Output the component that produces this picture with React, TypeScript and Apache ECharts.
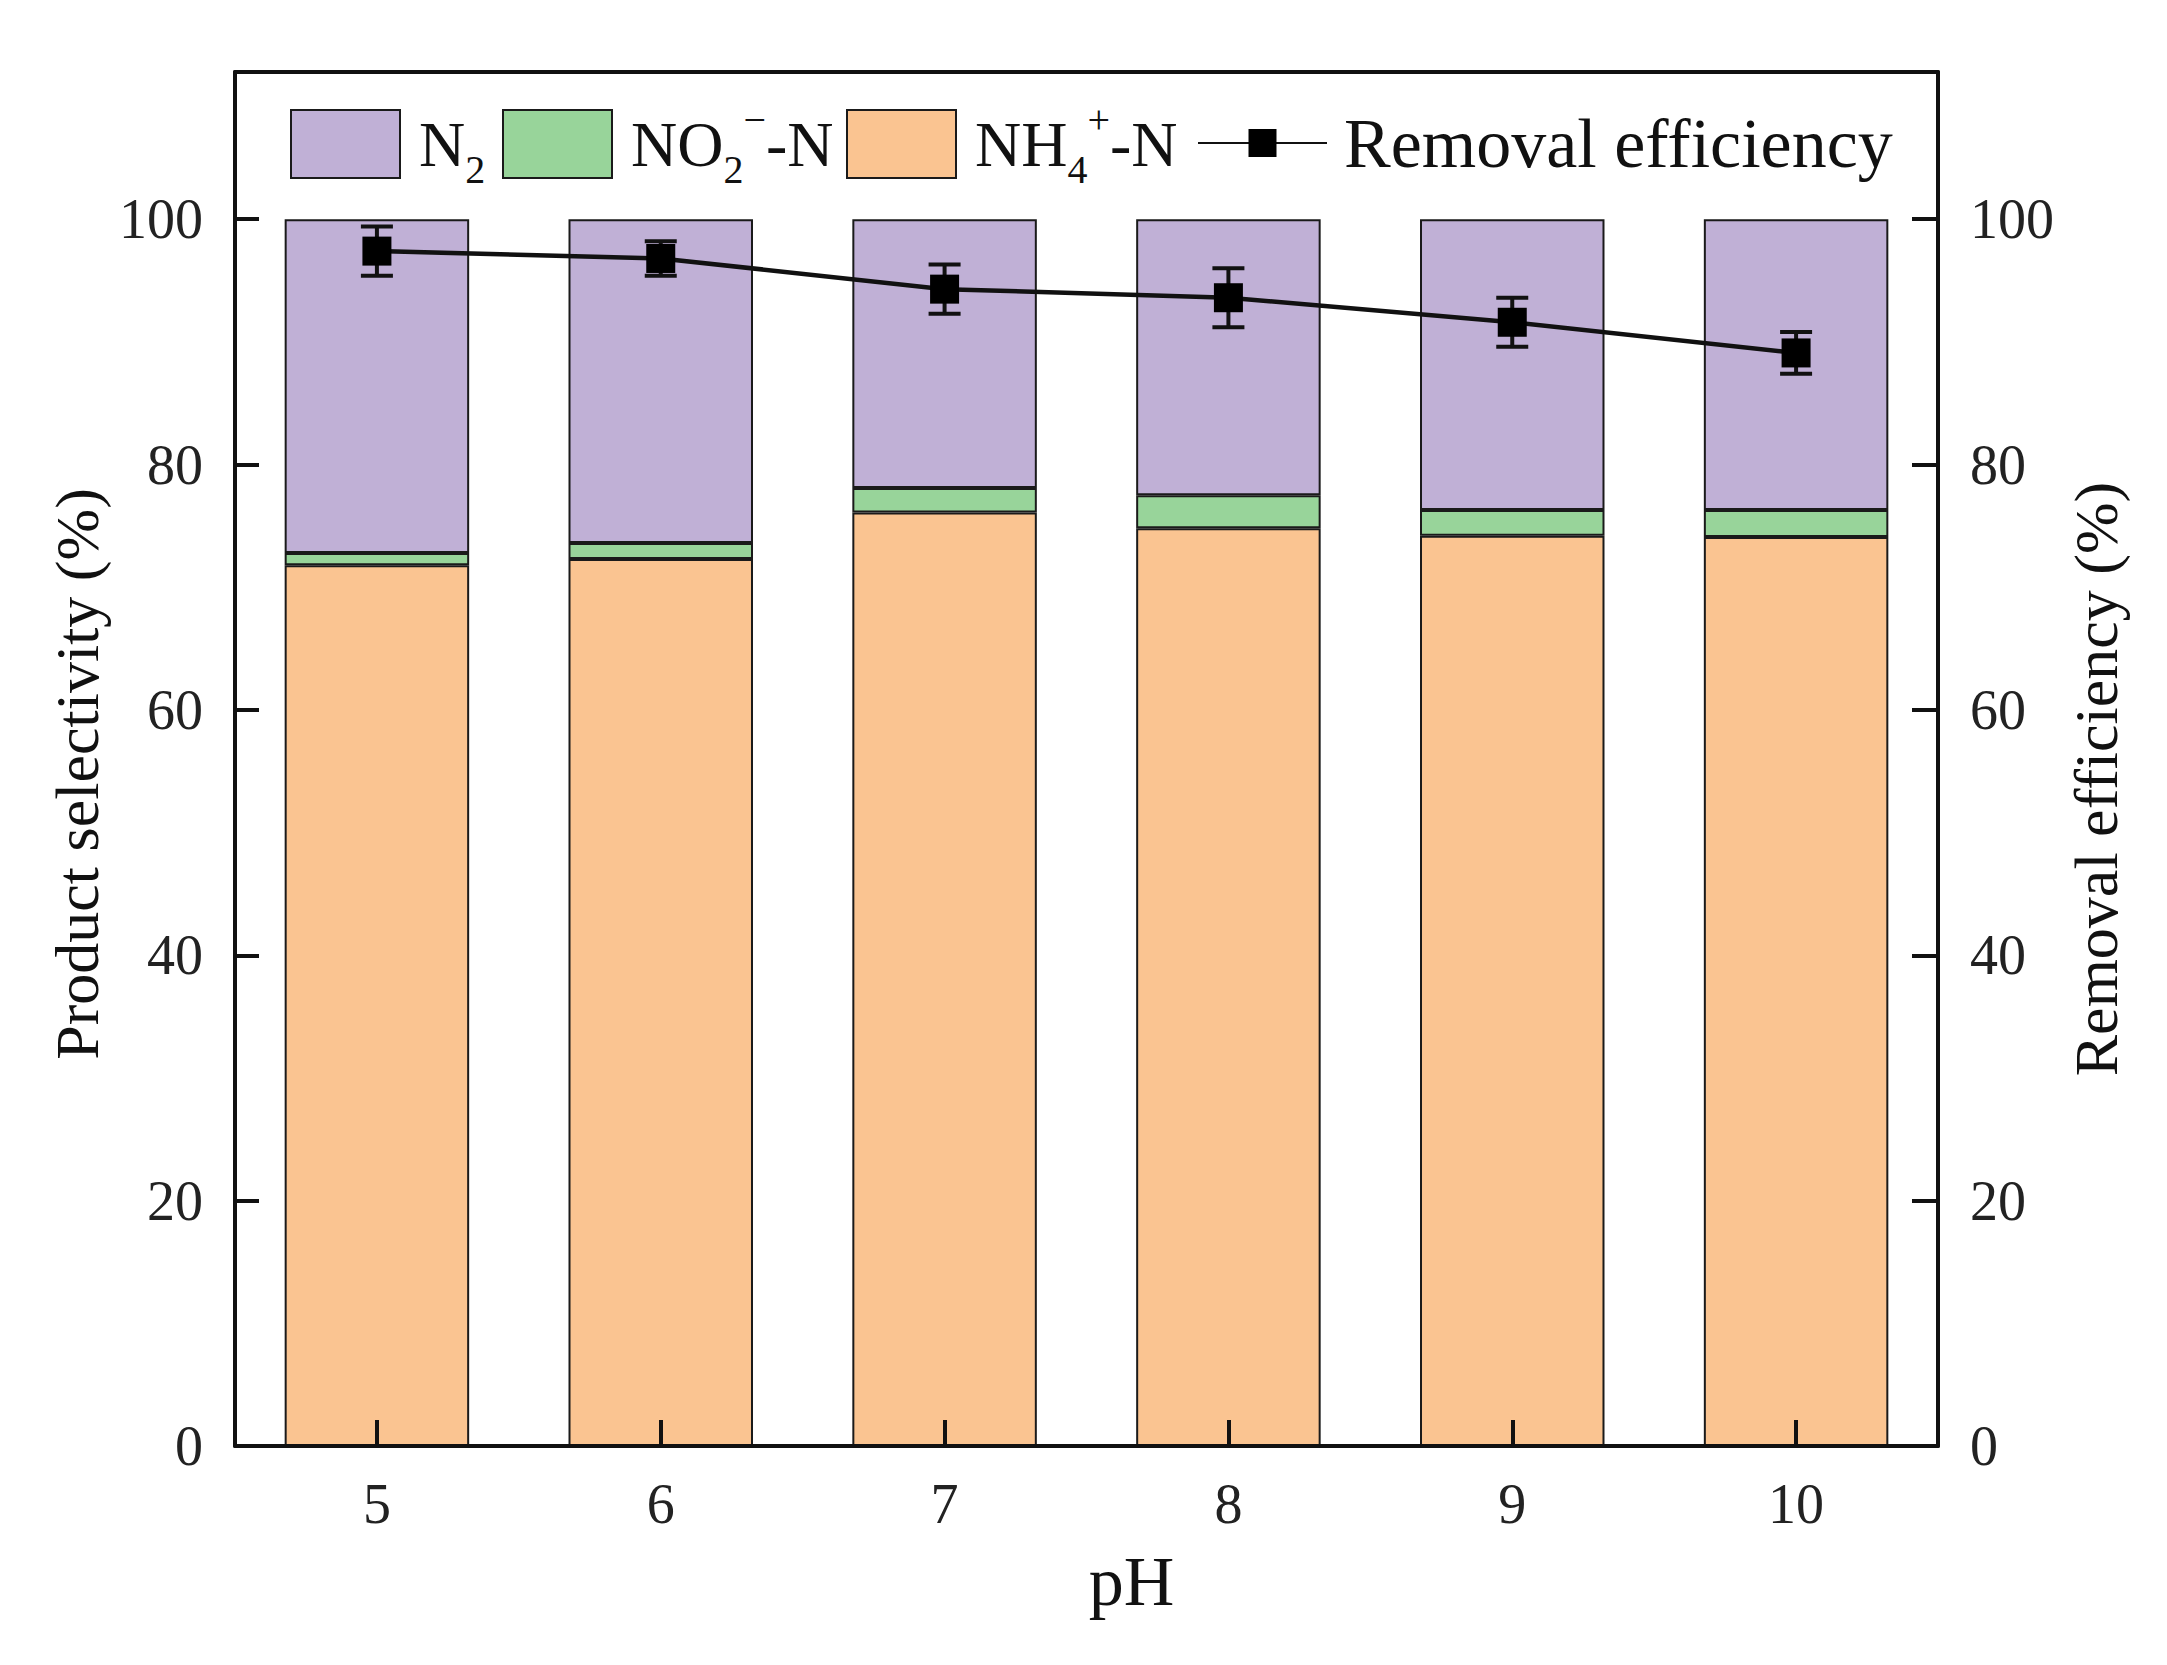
import { useEffect, useRef } from "react";
import * as echarts from "echarts";

// pH values on the x axis
const categories = ["5", "6", "7", "8", "9", "10"];

// product selectivity (%), stacked from bottom to top
const nh4Values = [71.8, 72.3, 76.1, 74.8, 74.2, 74.1];
const no2Values = [1.0, 1.3, 2.0, 2.7, 2.1, 2.2];
const n2Values = [27.2, 26.4, 21.9, 22.5, 23.7, 23.7];

// removal efficiency (%) and its error
const removalValues = [97.4, 96.8, 94.3, 93.6, 91.6, 89.1];
const removalErrors = [2.0, 1.4, 2.0, 2.4, 2.0, 1.7];

const FONT = '"Liberation Serif", "Times New Roman", serif';

const legendRich = {
  n: { fontSize: 64, fontFamily: FONT, color: "#111", lineHeight: 90 },
  sub: { fontSize: 40, fontFamily: FONT, color: "#111", lineHeight: 40, verticalAlign: "bottom" },
  sup: { fontSize: 40, fontFamily: FONT, color: "#111", lineHeight: 40, verticalAlign: "top" },
};

function legendLabel(name: string): string {
  if (name === "N2") return "{n|N}{sub|2}";
  if (name === "NO2") return "{n|NO}{sub|2}{sup|−}{n|-N}";
  if (name === "NH4") return "{n|NH}{sub|4}{sup|+}{n|-N}";
  return name;
}

function barLegend(name: string, left: number, top: number) {
  return {
    data: [name],
    left,
    top,
    icon: "rect",
    itemWidth: 109,
    itemHeight: 68,
    formatter: legendLabel,
    textStyle: { padding: [0, 0, 0, 14], rich: legendRich },
  };
}

export default function App() {
  const chartRef = useRef<HTMLDivElement | null>(null);

  useEffect(() => {
    if (!chartRef.current) return;
    const chart = echarts.init(chartRef.current, undefined, { renderer: "svg" });

    const axisLine = { show: true, onZero: false, lineStyle: { color: "#111", width: 4 } };
    const yLabel = {
      color: "#222",
      fontSize: 56,
      fontFamily: FONT,
      margin: 32,
      showMaxLabel: false,
      formatter: (v: number) => (v % 20 === 0 ? String(v) : ""),
    };

    const barBorder = { borderColor: "#1a1a1a", borderWidth: 2 };

    chart.setOption({
      animation: false,
      backgroundColor: "#fff",
      grid: { left: 235, right: 229, top: 72, bottom: 219, containLabel: false },
      legend: [
        barLegend("N2", 285, 104),
        barLegend("NO2", 497, 94),
        barLegend("NH4", 841, 94),
        {
          data: ["Removal efficiency"],
          left: 1192,
          top: 93,
          itemWidth: 129,
          itemHeight: 35,
          textStyle: {
            fontSize: 70,
            lineHeight: 90,
            fontFamily: FONT,
            color: "#111",
            padding: [0, 0, 0, 12],
          },
        },
      ],
      xAxis: [
        {
          type: "category",
          data: categories,
          boundaryGap: true,
          z: 10,
          axisLine,
          axisTick: { show: true, inside: true, alignWithLabel: true, length: 26, lineStyle: { width: 4, color: "#111" } },
          axisLabel: { color: "#222", fontSize: 56, fontFamily: FONT, margin: 30 },
          name: "pH",
          nameLocation: "middle",
          nameGap: 100,
          nameTextStyle: { fontSize: 70, fontFamily: FONT, color: "#111", padding: [0, 0, 0, 90] },
          splitLine: { show: false },
        },
        {
          type: "category",
          data: categories,
          position: "top",
          z: 10,
          axisLine,
          axisTick: { show: false },
          axisLabel: { show: false },
          splitLine: { show: false },
        },
      ],
      yAxis: [
        {
          type: "value",
          min: 0,
          max: 112,
          interval: 20,
          position: "left",
          z: 10,
          axisLine,
          axisTick: { show: true, inside: true, length: 24, lineStyle: { width: 4, color: "#111" } },
          axisLabel: yLabel,
          splitLine: { show: false },
          name: "Product selectivity (%)",
          nameLocation: "middle",
          nameRotate: 90,
          nameGap: 118,
          nameTextStyle: { fontSize: 62, fontFamily: FONT, color: "#111", padding: [0, 30, 0, 0] },
        },
        {
          type: "value",
          min: 0,
          max: 112,
          interval: 20,
          position: "right",
          z: 10,
          axisLine,
          axisTick: { show: true, inside: true, length: 26, lineStyle: { width: 4, color: "#111" } },
          axisLabel: yLabel,
          splitLine: { show: false },
          name: "Removal efficiency (%)",
          nameLocation: "middle",
          nameRotate: 90,
          nameGap: 100,
          nameTextStyle: { fontSize: 62, fontFamily: FONT, color: "#111", padding: [0, 40, 0, 0] },
        },
      ],
      series: [
        {
          name: "NH4",
          type: "bar",
          stack: "sel",
          barWidth: "65%",
          data: nh4Values,
          itemStyle: { color: "#FAC491", ...barBorder },
        },
        {
          name: "NO2",
          type: "bar",
          stack: "sel",
          barWidth: "65%",
          data: no2Values,
          itemStyle: { color: "#98D49A", ...barBorder },
        },
        {
          name: "N2",
          type: "bar",
          stack: "sel",
          barWidth: "65%",
          data: n2Values,
          itemStyle: { color: "#C0B0D6", ...barBorder },
        },
        {
          name: "err",
          type: "custom",
          xAxisIndex: 0,
          yAxisIndex: 1,
          data: removalValues.map((v, i) => [i, v, removalErrors[i]]),
          z: 3,
          renderItem: (_params: any, api: any) => {
            const x = api.value(0);
            const y = api.value(1);
            const e = api.value(2);
            const top = api.coord([x, y + e]);
            const bot = api.coord([x, y - e]);
            const hw = 16;
            const style = { stroke: "#111", lineWidth: 4 };
            return {
              type: "group",
              children: [
                { type: "line", shape: { x1: top[0], y1: top[1], x2: bot[0], y2: bot[1] }, style },
                { type: "line", shape: { x1: top[0] - hw, y1: top[1], x2: top[0] + hw, y2: top[1] }, style },
                { type: "line", shape: { x1: bot[0] - hw, y1: bot[1], x2: bot[0] + hw, y2: bot[1] }, style },
              ],
            };
          },
        },
        {
          name: "Removal efficiency",
          type: "line",
          xAxisIndex: 0,
          yAxisIndex: 1,
          data: removalValues,
          symbol: "rect",
          symbolSize: 29,
          z: 4,
          lineStyle: { color: "#111", width: 4.5 },
          itemStyle: { color: "#000" },
        },
      ],
    });

    return () => {
      chart.dispose();
    };
  }, []);

  return (
    <div
      ref={chartRef}
      style={{ position: "absolute", left: 0, top: 0, width: 2167, height: 1665 }}
    />
  );
}
